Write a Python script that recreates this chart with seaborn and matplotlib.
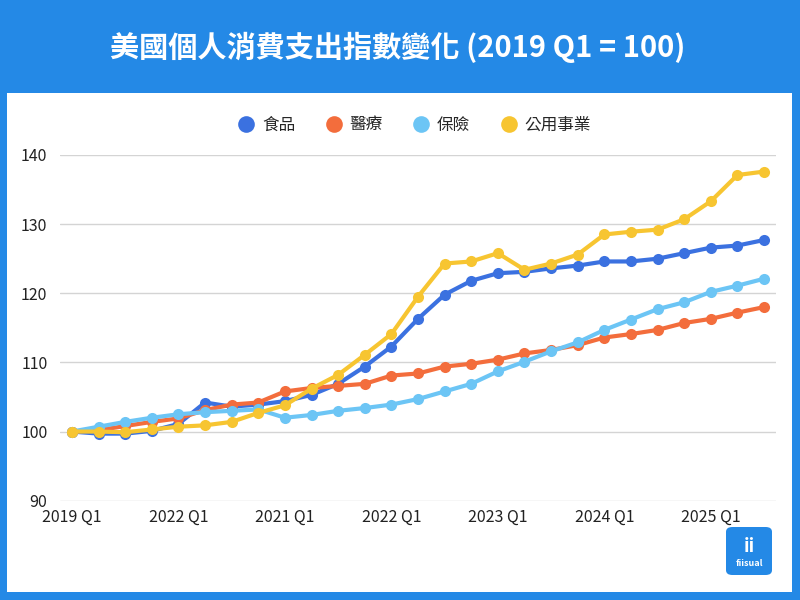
import seaborn as sns
import pandas as pd
import matplotlib.pyplot as plt
from matplotlib.patches import Rectangle, FancyBboxPatch
from matplotlib.lines import Line2D

# quarters 2019 Q1 .. 2025 Q3
quarters = list(range(27))
tick_pos = [0, 4, 8, 12, 16, 20, 24]
tick_labels = ["2019 Q1", "2022 Q1", "2021 Q1", "2022 Q1", "2023 Q1", "2024 Q1", "2025 Q1"]

food = [100, 99.7, 99.7, 100.1, 101.1, 104.2, 103.6, 103.9, 104.4, 105.3, 106.9, 109.4,
        112.3, 116.3, 119.8, 121.8, 122.9, 123.1, 123.6, 124.0, 124.6, 124.6, 125.0,
        125.8, 126.6, 126.9, 127.7]
medical = [100, 100.2, 100.8, 101.4, 101.9, 103.1, 103.9, 104.2, 105.8, 106.3, 106.6,
           106.9, 108.1, 108.4, 109.4, 109.8, 110.4, 111.3, 111.8, 112.5, 113.6, 114.1,
           114.7, 115.7, 116.3, 117.2, 118.0]
insurance = [100, 100.7, 101.4, 102.0, 102.5, 102.8, 103.0, 103.2, 102.0, 102.4, 103.0,
             103.4, 103.9, 104.7, 105.8, 106.9, 108.7, 110.1, 111.6, 112.9, 114.7, 116.2,
             117.7, 118.7, 120.2, 121.1, 122.1]
utilities = [100, 100.0, 99.9, 100.3, 100.7, 100.9, 101.4, 102.7, 103.8, 106.2, 108.2,
             111.1, 114.1, 119.5, 124.3, 124.6, 125.8, 123.4, 124.3, 125.6, 128.5, 128.9,
             129.2, 130.7, 133.3, 137.1, 137.6]

names = ["食品", "醫療", "保險", "公用事業"]
colors = ["#3b71e0", "#f36d3c", "#6cc5f5", "#f7c531"]

df = pd.concat([
    pd.DataFrame({"q": quarters, "value": vals, "series": name})
    for name, vals in zip(names, [food, medical, insurance, utilities])
])

sns.set_theme(style="white")
plt.rcParams['font.family'] = ['Noto Sans CJK TC', 'DejaVu Sans']

fig = plt.figure(figsize=(8, 6), dpi=100, facecolor="#2489e6")
fig.patches.append(Rectangle((7 / 800, 8 / 600), 785 / 800, 499 / 600,
                             transform=fig.transFigure, facecolor="white",
                             edgecolor="none", zorder=-1))

ax = fig.add_axes([0.075, 0.1655, 0.895, 0.5762])
ax.set_facecolor("none")

sns.lineplot(data=df, x="q", y="value", hue="series", hue_order=names,
             palette=colors, marker="o", markersize=8, markeredgewidth=0,
             linewidth=3, legend=False, ax=ax)
for ln in ax.lines:
    ln.set_clip_on(False)

ax.set_xlim(-0.45, 26.45)
ax.set_ylim(90, 140)
ax.set_yticks([90, 100, 110, 120, 130, 140])
ax.set_xticks(tick_pos)
ax.set_xticklabels(tick_labels)
ax.yaxis.grid(True, color="#d4d4d4", linewidth=1)
ax.set_axisbelow(True)
ax.tick_params(axis="both", length=0, labelsize=11.5, labelcolor="#222222")
ax.tick_params(axis="x", pad=6)
ax.tick_params(axis="y", pad=9)
ax.set_xlabel("")
ax.set_ylabel("")
sns.despine(ax=ax, left=True, bottom=True)

handles = [Line2D([], [], linestyle="none", marker="o", markersize=12,
                  markerfacecolor=c, markeredgewidth=0) for c in colors]
fig.legend(handles, names, loc="center", bbox_to_anchor=(0.517, 1 - 125 / 600),
           ncol=4, frameon=False, fontsize=12, handletextpad=0.35,
           columnspacing=1.7, handlelength=1.2)

fig.text(0.497, 1 - 47 / 600, "美國個人消費支出指數變化 (2019 Q1 = 100)",
         ha="center", va="center", color="white", fontsize=21, fontweight="bold")

# logo badge
fig.patches.append(FancyBboxPatch((726 / 800, 25 / 600), 46 / 800, 48 / 600,
                                  boxstyle="round,pad=0,rounding_size=0.008",
                                  transform=fig.transFigure,
                                  facecolor="#2489e6", edgecolor="none", zorder=3))
fig.text(749 / 800, 1 - 546 / 600, "ii", ha="center", va="center", color="white",
         fontsize=13, fontweight="bold", zorder=4)
fig.text(749 / 800, 1 - 563 / 600, "fiisual", ha="center", va="center", color="white",
         fontsize=6.5, fontweight="bold", zorder=4)

fig.savefig("out.png", dpi=100, facecolor=fig.get_facecolor())
